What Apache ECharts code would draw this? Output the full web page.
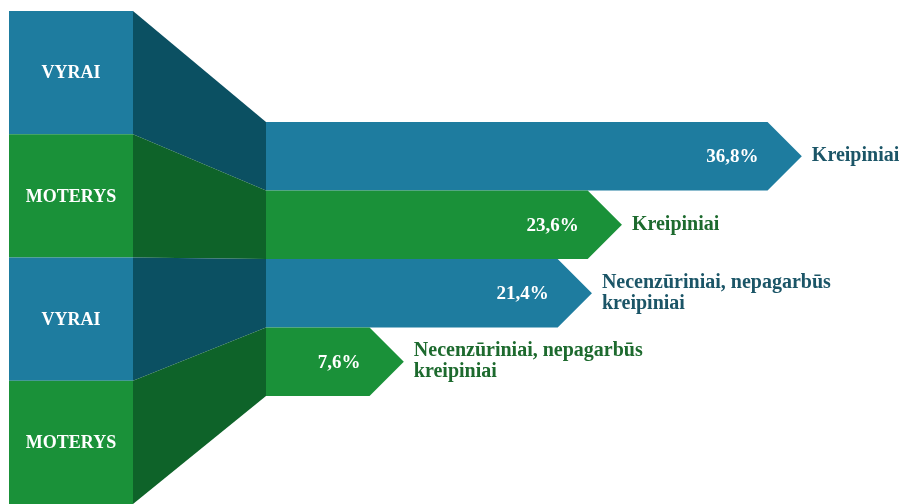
<!DOCTYPE html>
<html>
<head>
<meta charset="utf-8">
<title>Kreipiniai</title>
<script src="https://cdn.jsdelivr.net/npm/echarts@6/dist/echarts.min.js"></script>
<style>
  html, body { margin: 0; padding: 0; background: #fff; }
  #chart { width: 908px; height: 504px; }
</style>
</head>
<body>
<div id="chart"></div>
<script>
// duomenys
var groups = ['VYRAI', 'MOTERYS', 'VYRAI', 'MOTERYS']
var types = ['Kreipiniai', 'Kreipiniai', 'Necenzūriniai, nepagarbūs\nkreipiniai', 'Necenzūriniai, nepagarbūs\nkreipiniai']
var values = [36.8, 23.6, 21.4, 7.6]

var colors = {
  VYRAI: { main: '#1e7c9f', dark: '#0b5062', text: '#1b5567' },
  MOTERYS: { main: '#1a9139', dark: '#0e6329', text: '#1d6a2e' }
}
var serif = '"Liberation Serif", "DejaVu Serif", serif'

var myChart = echarts.init(document.getElementById('chart'))

// kairės pusės blokai
function renderBlock(params, api) {
  var i = api.value(0)
  var p0 = api.coord([0, i])
  var size = api.size([1, 1])
  var c = colors[groups[i]]
  return {
    type: 'group',
    children: [
      {
        type: 'rect',
        shape: { x: p0[0], y: p0[1] - size[1] / 2, width: size[0], height: size[1] },
        style: { fill: c.main }
      },
      {
        type: 'text',
        x: p0[0] + size[0] / 2,
        y: p0[1] + 1,
        style: {
          text: groups[i],
          fill: '#fff',
          font: 'bold 18px ' + serif,
          align: 'center',
          verticalAlign: 'middle'
        }
      }
    ]
  }
}

// jungtys tarp bloku ir juostu
function renderLink(params, api) {
  var i = api.value(0)
  var barStart = api.coord([0, i])
  var barH = api.size([0, 1])[1]
  var a = myChart.convertToPixel({ gridIndex: 0 }, [1, i])
  var b = myChart.convertToPixel({ gridIndex: 0 }, [1, i + 1])
  var blockH = b[1] - a[1]
  return {
    type: 'polygon',
    shape: {
      points: [
        [a[0], a[1] - blockH / 2],
        [barStart[0], barStart[1] - barH / 2],
        [barStart[0], barStart[1] + barH / 2],
        [a[0], a[1] + blockH / 2]
      ]
    },
    style: { fill: colors[groups[i]].dark }
  }
}

// rodyklės formos juostos
function renderArrow(params, api) {
  var i = api.value(1)
  var start = api.coord([0, i])
  var end = api.coord([api.value(0), i])
  var h = api.size([0, 1])[1]
  var top = start[1] - h / 2
  var bottom = start[1] + h / 2
  var tip = end[0] + h / 2
  var c = colors[groups[i]]
  return {
    type: 'group',
    children: [
      {
        type: 'polygon',
        shape: {
          points: [[start[0], top], [end[0], top], [tip, start[1]], [end[0], bottom], [start[0], bottom]]
        },
        style: { fill: c.main }
      },
      {
        type: 'text',
        x: end[0] - 9,
        y: start[1] + 1,
        style: {
          text: String(values[i]).replace('.', ',') + '%',
          fill: '#fff',
          font: 'bold 19px ' + serif,
          align: 'right',
          verticalAlign: 'middle'
        }
      },
      {
        type: 'text',
        x: tip + 10,
        y: start[1],
        style: {
          text: types[i],
          fill: c.text,
          font: 'bold 20px ' + serif,
          lineHeight: 21,
          align: 'left',
          verticalAlign: 'middle'
        }
      }
    ]
  }
}

var idx = groups.map(function (g, i) { return i })

var option = {
  animation: false,
  grid: [
    { left: 9, top: 11, width: 124, height: 496 },
    { left: 266, top: 122, width: 552, height: 274 }
  ],
  xAxis: [
    { gridIndex: 0, type: 'value', min: 0, max: 1, show: false },
    { gridIndex: 1, type: 'value', min: 0, max: 40.5, show: false }
  ],
  yAxis: [
    { gridIndex: 0, type: 'category', data: groups.map(function (g, i) { return g + i }), inverse: true, show: false },
    { gridIndex: 1, type: 'category', data: types.map(function (t, i) { return t + i }), inverse: true, show: false }
  ],
  series: [
    {
      type: 'custom',
      xAxisIndex: 1,
      yAxisIndex: 1,
      renderItem: renderLink,
      data: idx.map(function (i) { return [i] }),
      encode: { y: 0 },
      z: 1
    },
    {
      type: 'custom',
      xAxisIndex: 0,
      yAxisIndex: 0,
      renderItem: renderBlock,
      data: idx.map(function (i) { return [i] }),
      encode: { y: 0 },
      z: 2
    },
    {
      type: 'custom',
      xAxisIndex: 1,
      yAxisIndex: 1,
      renderItem: renderArrow,
      data: values.map(function (v, i) { return [v, i] }),
      encode: { x: 0, y: 1 },
      z: 3
    }
  ]
}

myChart.setOption(option)
</script>
</body>
</html>
